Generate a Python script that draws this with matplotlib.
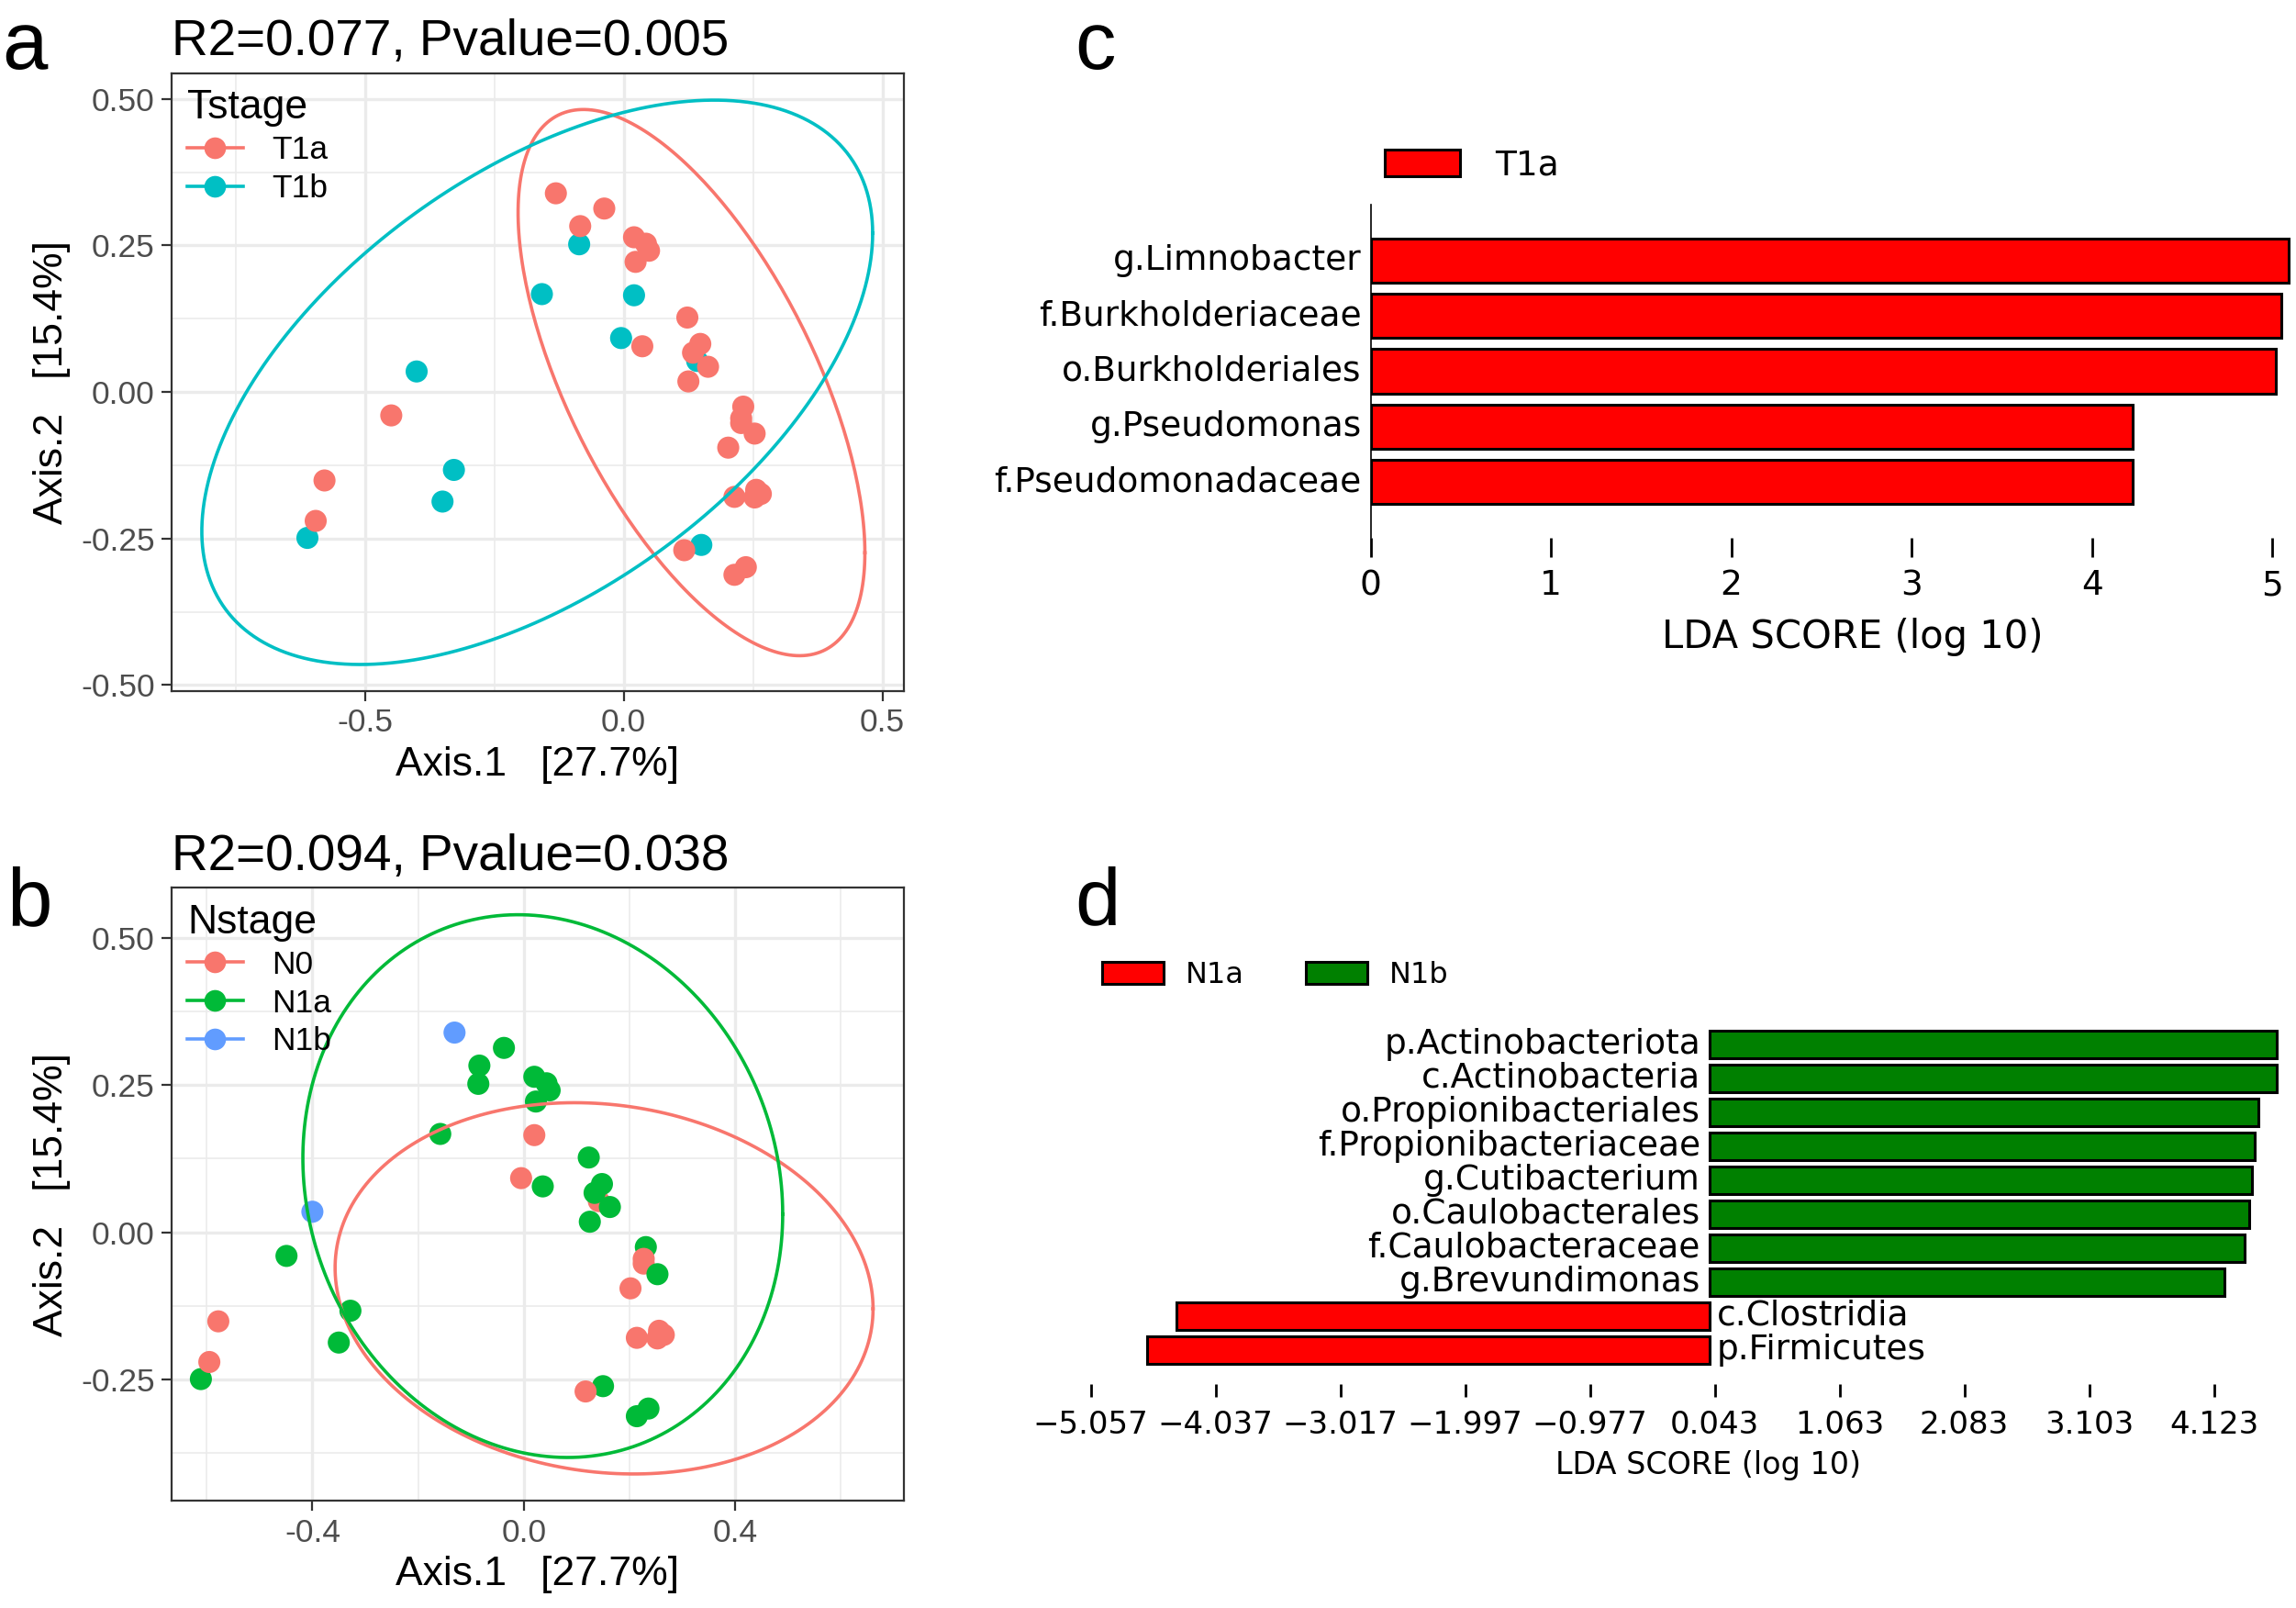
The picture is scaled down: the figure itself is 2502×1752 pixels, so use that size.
import numpy as np
import matplotlib
matplotlib.use("Agg")
import matplotlib.pyplot as plt
from matplotlib.lines import Line2D
from matplotlib.patches import Patch

# ---------------- PCoA data (shared coordinates, two groupings) ----------------
pc1 = [-0.086, -0.158, 0.020, -0.005, 0.142, -0.400, -0.328, -0.350, -0.611, 0.150,
       -0.131, -0.0375, -0.084, 0.020, 0.043, 0.049, 0.023, 0.123, 0.148, 0.134,
       0.036, 0.163, 0.125, 0.231, 0.227, 0.227, 0.253, 0.202, 0.256, 0.265,
       0.214, 0.253, 0.117, 0.236, 0.214, -0.449, -0.578, -0.595]
pc2 = [0.252, 0.167, 0.165, 0.092, 0.053, 0.035, -0.133, -0.187, -0.249, -0.261,
       0.339, 0.313, 0.283, 0.264, 0.253, 0.241, 0.222, 0.127, 0.082, 0.067,
       0.078, 0.043, 0.018, -0.025, -0.053, -0.045, -0.071, -0.095, -0.167, -0.174,
       -0.179, -0.180, -0.270, -0.299, -0.312, -0.040, -0.151, -0.220]
tstage = ["T1b"] * 10 + ["T1a"] * 28
nstage = ["N1a", "N1a", "N0", "N0", "N0", "N1b", "N1a", "N1a", "N1a", "N1a",
          "N1b", "N1a", "N1a", "N1a", "N1a", "N1a", "N1a", "N1a", "N1a", "N1a",
          "N1a", "N1a", "N1a", "N1a", "N0", "N0", "N1a", "N0", "N0", "N0",
          "N0", "N0", "N0", "N1a", "N1a", "N1a", "N0", "N0"]

t_levels = ["T1a", "T1b"]
t_colors = ["#F8766D", "#00BFC4"]
n_levels = ["N0", "N1a", "N1b"]
n_colors = ["#F8766D", "#00BA38", "#619CFF"]

# confidence ellipses: centre, half extents along x / y, correlation
ell_t_group = ["T1a", "T1b"]
ell_t_cx = [0.131, -0.167]
ell_t_cy = [0.016, 0.0165]
ell_t_rx = [0.335, 0.648]
ell_t_ry = [0.466, 0.4815]
ell_t_rho = [-0.623, 0.528]

ell_n_group = ["N0", "N1a"]
ell_n_cx = [0.152, 0.036]
ell_n_cy = [-0.095, 0.0785]
ell_n_rx = [0.509, 0.454]
ell_n_ry = [0.315, 0.4605]
ell_n_rho = [-0.11, -0.103]

title_a = "R2=0.077, Pvalue=0.005"
title_b = "R2=0.094, Pvalue=0.038"
xlab_pcoa = "Axis.1   [27.7%]"
ylab_pcoa = "Axis.2   [15.4%]"

a_xticks = [-0.5, 0.0, 0.5]
a_xticklabels = ["-0.5", "0.0", "0.5"]
a_xminor = [-0.75, -0.25, 0.25]
a_yticks = [-0.5, -0.25, 0.0, 0.25, 0.5]
a_yticklabels = ["-0.50", "-0.25", "0.00", "0.25", "0.50"]
a_yminor = [-0.375, -0.125, 0.125, 0.375]
b_xticks = [-0.4, 0.0, 0.4]
b_xticklabels = ["-0.4", "0.0", "0.4"]
b_xminor = [-0.6, -0.2, 0.2, 0.6]
b_yticks = [-0.25, 0.0, 0.25, 0.5]
b_yticklabels = ["-0.25", "0.00", "0.25", "0.50"]
b_yminor = [-0.375, -0.125, 0.125, 0.375]

# ---------------- LEfSe data ----------------
c_taxa = ["g.Limnobacter", "f.Burkholderiaceae", "o.Burkholderiales",
          "g.Pseudomonas", "f.Pseudomonadaceae"]
c_lda = [5.09, 5.05, 5.02, 4.225, 4.225]
c_class = ["T1a"] * 5
c_xticks = [0, 1, 2, 3, 4, 5]

d_taxa = ["p.Actinobacteriota", "c.Actinobacteria", "o.Propionibacteriales",
          "f.Propionibacteriaceae", "g.Cutibacterium", "o.Caulobacterales",
          "f.Caulobacteraceae", "g.Brevundimonas", "c.Clostridia", "p.Firmicutes"]
d_lda = [4.638, 4.638, 4.483, 4.456, 4.436, 4.409, 4.375, 4.206, -4.355, -4.598]
d_class = ["N1b"] * 8 + ["N1a"] * 2
d_xticks = [-5.057, -4.037, -3.017, -1.997, -0.977, 0.043, 1.063, 2.083, 3.103, 4.123]

lefse_colors = {"T1a": "#FF0000", "N1a": "#FF0000", "N1b": "#008000"}
lda_label = "LDA SCORE (log 10)"

# ---------------- figure ----------------
fig = plt.figure(figsize=(25.02, 17.52), dpi=100)
fig.patch.set_facecolor("white")

GG = "Liberation Sans"
DV = "DejaVu Sans"


def ellipse_xy(cx, cy, rx, ry, rho, n=240):
    S = np.array([[rx * rx, rho * rx * ry], [rho * rx * ry, ry * ry]])
    L = np.linalg.cholesky(S)
    t = np.linspace(0, 2 * np.pi, n)
    circ = np.vstack([np.cos(t), np.sin(t)])
    pts = L @ circ
    return cx + pts[0], cy + pts[1]


def pcoa_panel(ax, groups, levels, colors, eg, ecx, ecy, erx, ery, erho,
               xlim, ylim, xt, xtl, xminor, yt, ytl, yminor, title, legtitle):
    cols = [colors[levels.index(g)] for g in groups]
    ax.scatter(pc1, pc2, c=cols, s=300, linewidths=0, zorder=3)
    for g, cx, cy, rx, ry, rho in zip(eg, ecx, ecy, erx, ery, erho):
        x, y = ellipse_xy(cx, cy, rx, ry, rho)
        ax.plot(x, y, color=colors[levels.index(g)], lw=2.6, zorder=4)
    ax.set_xticks(xt)
    ax.set_xticklabels(xtl)
    ax.set_xticks(xminor, minor=True)
    ax.set_yticks(yt)
    ax.set_yticklabels(ytl)
    ax.set_yticks(yminor, minor=True)
    ax.set_xlim(*xlim)
    ax.set_ylim(*ylim)
    ax.set_axisbelow(True)
    ax.grid(which="major", color="#EBEBEB", lw=2.4)
    ax.grid(which="minor", color="#EBEBEB", lw=1.2)
    ax.tick_params(which="minor", length=0)
    ax.tick_params(which="major", length=8, width=1.6, color="#333333",
                   labelcolor="#4D4D4D", labelsize=25.5, pad=5)
    for lab in ax.get_xticklabels() + ax.get_yticklabels():
        lab.set_family(GG)
    for sp in ax.spines.values():
        sp.set_color("#333333")
        sp.set_linewidth(1.6)
    ax.set_xlabel(xlab_pcoa, family=GG, fontsize=32, labelpad=6)
    ax.set_ylabel(ylab_pcoa, family=GG, fontsize=32, labelpad=8)
    ax.set_title(title, loc="left", family=GG, fontsize=39.5, pad=14)
    handles = [Line2D([0], [0], color=c, lw=2.6, marker="o", markersize=17,
                      markeredgewidth=0, label=l) for l, c in zip(levels, colors)]
    leg = ax.legend(handles=handles, loc="upper left", frameon=False,
                    title=legtitle, prop={"family": GG, "size": 25.5},
                    title_fontproperties={"family": GG, "size": 32},
                    handlelength=1.7, handletextpad=0.9, labelspacing=0.25,
                    borderaxespad=0.3, borderpad=0.2, alignment="left")
    leg.set_zorder(5)


ax_a = fig.add_axes([0.0746, 0.570, 0.319, 0.3845])
pcoa_panel(ax_a, tstage, t_levels, t_colors, ell_t_group, ell_t_cx, ell_t_cy,
           ell_t_rx, ell_t_ry, ell_t_rho, (-0.874, 0.541), (-0.511, 0.544),
           a_xticks, a_xticklabels, a_xminor, a_yticks, a_yticklabels, a_yminor,
           title_a, "Tstage")

ax_b = fig.add_axes([0.0746, 0.0665, 0.319, 0.3815])
pcoa_panel(ax_b, nstage, n_levels, n_colors, ell_n_group, ell_n_cx, ell_n_cy,
           ell_n_rx, ell_n_ry, ell_n_rho, (-0.667, 0.719), (-0.456, 0.585),
           b_xticks, b_xticklabels, b_xminor, b_yticks, b_yticklabels, b_yminor,
           title_b, "Nstage")


# ---------------- LEfSe panels ----------------
def lefse_panel(ax, taxa, lda, classes, xticks, xlim, label_size, tick_size,
                xlabel_size, tick_len, tick_pad, xlabel_pad, xlabel_x, show_left):
    n = len(taxa)
    ypos = np.arange(n)[::-1]
    cols = [lefse_colors[c] for c in classes]
    ax.barh(ypos, lda, height=0.8, color=cols, edgecolor="black", linewidth=2.2)
    for y, v, t in zip(ypos, lda, taxa):
        if v >= 0:
            ax.annotate(t, (0, y), xytext=(-10, 0), textcoords="offset pixels",
                        ha="right", va="center", family=DV, fontsize=label_size)
        else:
            ax.annotate(t, (0, y), xytext=(8, 0), textcoords="offset pixels",
                        ha="left", va="center", family=DV, fontsize=label_size)
    ax.set_xticks(xticks)
    ax.set_xticklabels([("%g" % v if float(v).is_integer() else "%.3f" % v).replace("-", "\u2212")
                        for v in xticks], family=DV)
    ax.set_ylim(-1, n)
    ax.set_xlim(*xlim)
    ax.set_yticks([])
    ax.tick_params(axis="x", length=tick_len, width=2, direction="out",
                   labelsize=tick_size, pad=tick_pad)
    for k, sp in ax.spines.items():
        sp.set_visible(False)
    if show_left:
        ax.spines["left"].set_visible(True)
        ax.spines["left"].set_linewidth(1.2)
        ax.spines["left"].set_position(("data", 0))
    ax.set_xlabel(lda_label, family=DV, fontsize=xlabel_size, labelpad=xlabel_pad)
    ax.xaxis.label.set_x(xlabel_x)
    ax.patch.set_alpha(0)


ax_c = fig.add_axes([0.597, 0.6658, 0.4005, 0.2067])
lefse_panel(ax_c, c_taxa, c_lda, c_class, c_xticks, (0, 5.1), 27, 27, 30,
            15, 10, 12, 0.524, True)
ax_c.legend(handles=[Patch(facecolor=lefse_colors["T1a"], edgecolor="black",
                           linewidth=2.2, label="T1a")],
            loc="center left", bbox_to_anchor=(0.603, 0.897),
            bbox_transform=fig.transFigure, frameon=False,
            prop={"family": DV, "size": 27}, handlelength=2.2, handleheight=0.8,
            handletextpad=1.0, borderpad=0, borderaxespad=0)

ax_d = fig.add_axes([0.4728, 0.1393, 0.5222, 0.2323])
lefse_panel(ax_d, d_taxa, d_lda, d_class, d_xticks, (-5.1, 4.7), 27, 24.5, 24,
            10, 10, 8, 0.519, False)
ax_d.legend(handles=[Patch(facecolor=lefse_colors[k], edgecolor="black",
                           linewidth=2.2, label=k) for k in ["N1a", "N1b"]],
            loc="center left", bbox_to_anchor=(0.480, 0.3934), ncol=2,
            bbox_transform=fig.transFigure, frameon=False,
            prop={"family": DV, "size": 23}, handlelength=2.1, handleheight=0.8,
            handletextpad=0.75, columnspacing=2.1, borderpad=0, borderaxespad=0)

# panel letters
fig.text(0.001, 0.957, "a", family=GG, fontsize=64, va="baseline")
fig.text(0.003, 0.4245, "b", family=GG, fontsize=64, va="baseline")
fig.text(0.468, 0.957, "c", family=GG, fontsize=64, va="baseline")
fig.text(0.468, 0.4245, "d", family=GG, fontsize=64, va="baseline")

fig.savefig("out.png", dpi=100, facecolor="white")
